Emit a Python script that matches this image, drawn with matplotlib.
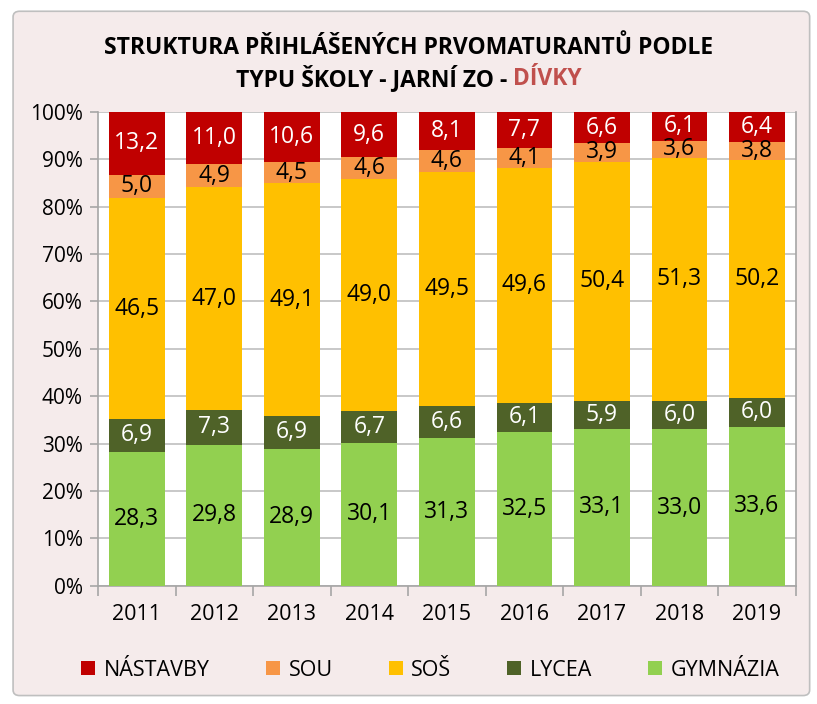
#!/usr/bin/env python3
"""Stacked 100% bar chart: structure of first-time maturita applicants (girls)."""
import matplotlib
matplotlib.use("Agg")
import matplotlib.pyplot as plt
from matplotlib.patches import FancyBboxPatch
import numpy as np

years = ["2011", "2012", "2013", "2014", "2015", "2016", "2017", "2018", "2019"]
gymnazia = [28.3, 29.8, 28.9, 30.1, 31.3, 32.5, 33.1, 33.0, 33.6]
lycea = [6.9, 7.3, 6.9, 6.7, 6.6, 6.1, 5.9, 6.0, 6.0]
sos = [46.5, 47.0, 49.1, 49.0, 49.5, 49.6, 50.4, 51.3, 50.2]
sou = [5.0, 4.9, 4.5, 4.6, 4.6, 4.1, 3.9, 3.6, 3.8]
nastavby = [13.2, 11.0, 10.6, 9.6, 8.1, 7.7, 6.6, 6.1, 6.4]

series = [
    ("GYMNÁZIA", gymnazia, "#92D050", "black"),
    ("LYCEA", lycea, "#4F6228", "white"),
    ("SOŠ", sos, "#FFC000", "black"),
    ("SOU", sou, "#F79646", "black"),
    ("NÁSTAVBY", nastavby, "#C00000", "white"),
]

plt.rcParams["font.family"] = ["Open Sans", "DejaVu Sans"]

fig = plt.figure(figsize=(8.17, 7.04), dpi=100)
fig.patch.set_facecolor("white")
fig.patches.append(FancyBboxPatch((0.016, 0.012), 0.975, 0.972, boxstyle="round,pad=0,rounding_size=0.008",
                                  transform=fig.transFigure, facecolor="#F5EBEB", edgecolor="#BFBFBF",
                                  linewidth=1.2, zorder=-10))

ax = fig.add_axes([0.12, 0.168, 0.854, 0.673])
ax.set_facecolor("white")

totals = np.sum([np.array(s[1]) for s in series], axis=0)
x = np.arange(len(years))
bottom = np.zeros(len(years))
handles = {}
for name, vals, color, tcolor in series:
    share = np.array(vals) / totals * 100
    bars = ax.bar(x, share, bottom=bottom, width=0.72, color=color, zorder=3)
    handles[name] = bars
    for xi, b, h, v in zip(x, bottom, share, vals):
        ax.text(xi, b + h / 2, f"{v:.1f}".replace(".", ","), ha="center", va="center",
                fontsize=16.5, color=tcolor, zorder=4)
    bottom += share

ax.set_xlim(-0.5, len(years) - 0.5)
ax.set_ylim(0, 100)
ax.set_yticks(np.arange(0, 101, 10))
ax.set_yticklabels([f"{v}%" for v in range(0, 101, 10)], fontsize=15)
ax.set_xticks(x)
ax.set_xticklabels(years, fontsize=15.5)
ax.set_xticks(np.arange(-0.5, len(years), 1), minor=True)
ax.tick_params(axis="x", which="major", length=0, pad=13)
ax.tick_params(axis="x", which="minor", length=7, color="#A6A6A6", width=1.2)
ax.tick_params(axis="y", length=6, color="#A6A6A6", width=1.2, pad=5)
ax.grid(axis="y", color="#BFBFBF", linewidth=1.2, zorder=0)
for side in ["left", "bottom", "right"]:
    ax.spines[side].set_color("#A6A6A6")
    ax.spines[side].set_linewidth(1.2)
ax.spines["top"].set_visible(False)

title_size = 16.5
fig.text(0.5, 0.932, "STRUKTURA PŘIHLÁŠENÝCH PRVOMATURANTŮ PODLE", ha="center", va="center",
         fontsize=title_size, fontweight="bold")
# second line: black part + red "DÍVKY", centred together
renderer = fig.canvas.get_renderer()
probe = fig.text(0.5, 0.888, "TYPU ŠKOLY - JARNÍ ZO - DÍVKY", ha="center", va="center",
                 fontsize=title_size, fontweight="bold")
full = probe.get_window_extent(renderer=renderer)
probe.remove()
t1 = fig.text(full.x0 / fig.bbox.width, 0.888, "TYPU ŠKOLY - JARNÍ ZO - ", ha="left", va="center",
              fontsize=title_size, fontweight="bold")
w1 = t1.get_window_extent(renderer=renderer).width
fig.text((full.x0 + w1) / fig.bbox.width, 0.888, "DÍVKY", ha="left", va="center",
         fontsize=title_size, fontweight="bold", color="#C0504D")

order = ["NÁSTAVBY", "SOU", "SOŠ", "LYCEA", "GYMNÁZIA"]
fig.legend([handles[n] for n in order], order, loc="center", bbox_to_anchor=(0.527, 0.048),
           ncol=5, frameon=False, fontsize=15.5, handlelength=0.65, handleheight=0.65,
           columnspacing=2.6, handletextpad=0.4)

fig.savefig("out.png", dpi=100, facecolor=fig.get_facecolor())
